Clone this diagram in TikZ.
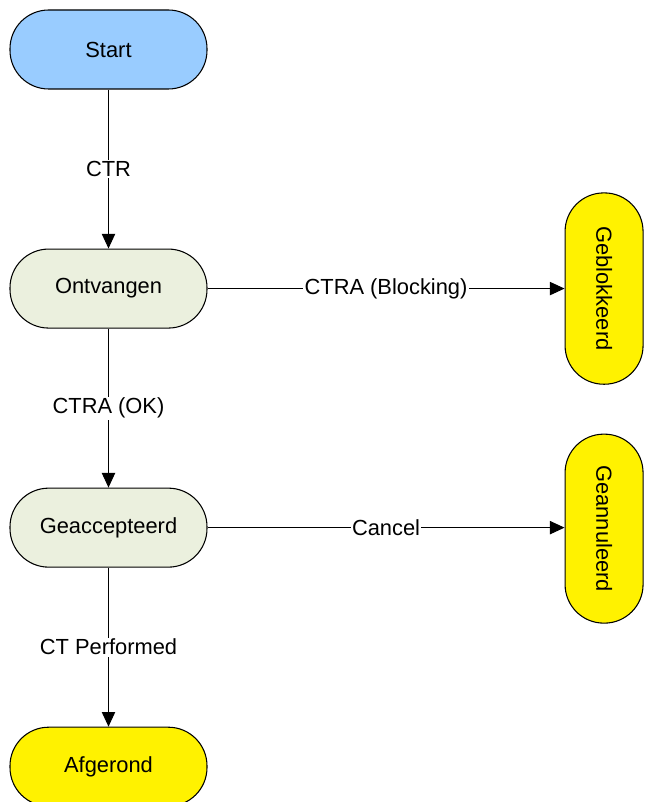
\documentclass[tikz,border=0pt]{standalone}
\usepackage{fontspec}
\setmainfont{Liberation Sans}
\usetikzlibrary{positioning,arrows.meta}
\definecolor{startblue}{HTML}{99CCFF}
\definecolor{stategreen}{HTML}{EBF0DE}

\begin{document}
\begin{tikzpicture}
[every node/.style={font=\fontsize{16.4}{19}\selectfont},
state/.style={shape=rectangle,rounded corners=29pt,draw,line width=0.8pt,align=center,
  minimum width=147.75pt,minimum height=59.25pt,inner sep=0pt,fill=stategreen},
endstate/.style={state,fill=yellow,minimum width=58.5pt,minimum height=143.5pt},
lbl/.style={fill=white,inner sep=1pt},
flow/.style={draw,line width=0.75pt,-{Triangle[length=11pt,width=10pt]}},
node distance=119.25pt and 267.75pt]

\useasboundingbox (0,0) rectangle (483pt,-601.5pt);

\node[state,fill=startblue] (start) at (81.375pt,-37.125pt) {Start};
\node[state,below=of start] (ontv) {Ontvangen};
\node[state,below=of ontv] (geacc) {Geaccepteerd};
\node[state,below=of geacc,fill=yellow] (afger) {Afgerond};
\node[endstate,right=of ontv] (geblok) {\rotatebox{-90}{Geblokkeerd}};
\node[endstate,right=of geacc,yshift=-0.75pt,minimum height=141.75pt] (geann) {\rotatebox{-90}{Geannuleerd}};

\path[flow] (start) -- node[lbl] {CTR} (ontv);
\path[flow] (ontv) -- node[lbl] {CTRA (OK)} (geacc);
\path[flow] (geacc) -- node[lbl] {CT Performed} (afger);
\path[flow] (ontv) -- node[lbl] {CTRA (Blocking)} (geblok);
\path[flow] (geacc.east) -- node[lbl] {Cancel} (geann.west |- geacc.east);
\end{tikzpicture}
\end{document}
